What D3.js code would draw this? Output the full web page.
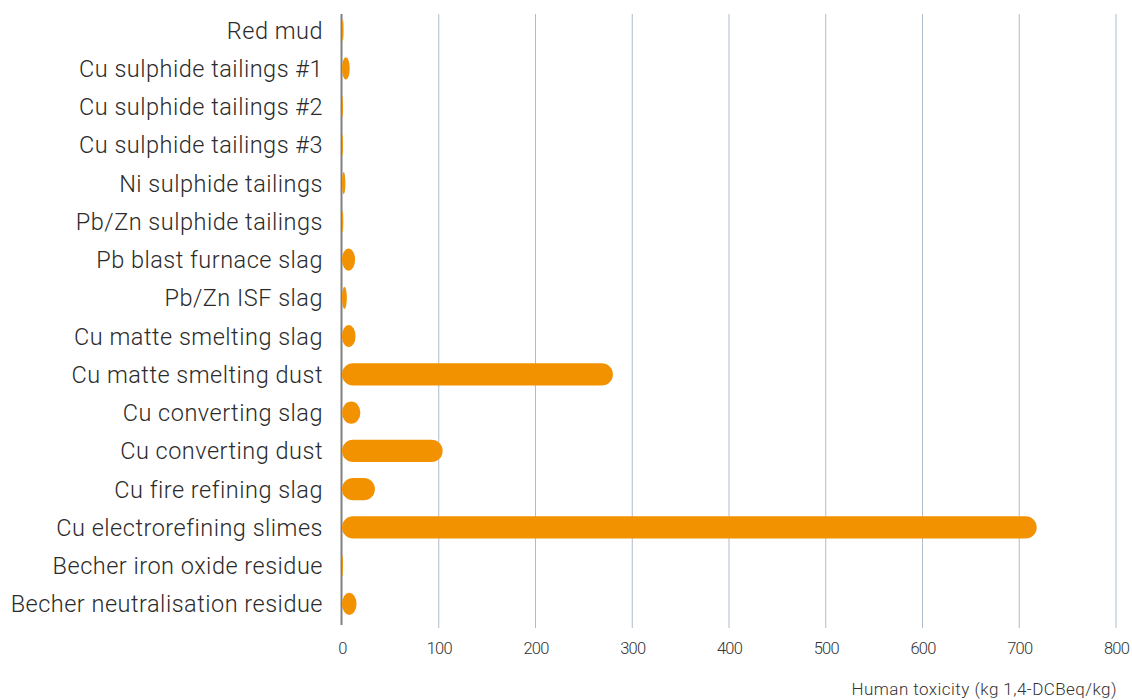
<!DOCTYPE html>
<html><head><meta charset="utf-8">
<script src="https://cdn.jsdelivr.net/npm/d3@7"></script>
<style>body{margin:0;background:#fff;}svg{display:block;}</style>
</head><body>
<svg id="chart" width="1132" height="700"></svg>
<script>
const categories = ["Red mud","Cu sulphide tailings #1","Cu sulphide tailings #2","Cu sulphide tailings #3","Ni sulphide tailings","Pb/Zn sulphide tailings","Pb blast furnace slag","Pb/Zn ISF slag","Cu matte smelting slag","Cu matte smelting dust","Cu converting slag","Cu converting dust","Cu fire refining slag","Cu electrorefining slimes","Becher iron oxide residue","Becher neutralisation residue"];
const values = [1.6, 8, 1.0, 1.0, 3.5, 1.3, 13.5, 5, 14, 280, 19, 104, 34, 718, 1.0, 15];
const tickValues = [0,100,200,300,400,500,600,700,800];
const axisTitle = "Human toxicity (kg 1,4-DCBeq/kg)";

(function(){
const svg = d3.select("#chart");
const mLeft = 342, mRight = 1116, mTop = 11, mBottom = 623;
const x = d3.scaleLinear().domain([0,800]).range([mLeft,mRight]);
const y = d3.scaleBand().domain(categories).range([mTop,mBottom]).paddingInner(0.42).paddingOuter(0.21);

// gridlines
svg.append("g").selectAll("line").data(tickValues.slice(1)).join("line")
  .attr("x1",d=>x(d)).attr("x2",d=>x(d)).attr("y1",14).attr("y2",628)
  .attr("stroke","#aebccb").attr("stroke-width",1);

// axis line (under bars)
svg.append("line").attr("x1",mLeft-0.5).attr("x2",mLeft-0.5).attr("y1",14).attr("y2",625)
  .attr("stroke","#808080").attr("stroke-width",2);

// bars
const bh = y.bandwidth();
svg.append("g").selectAll("rect").data(values).join("rect")
  .attr("x",x(0)).attr("y",(d,i)=>y(categories[i]))
  .attr("width",d=>x(d)-x(0)).attr("height",bh)
  .attr("rx",bh/2).attr("ry",bh/2)
  .attr("fill","#f39200");

// category labels
svg.append("g").selectAll("text").data(categories).join("text")
  .attr("x",323).attr("y",d=>y(d)+bh/2).attr("dy","0.36em")
  .attr("text-anchor","end").attr("font-family","Roboto").attr("font-weight",300)
  .attr("font-size",23.5).attr("letter-spacing",0.5).attr("fill","#2b2b2b").text(d=>d);

// x tick labels
const xAxis = d3.axisBottom(x).tickValues(tickValues).tickSize(0).tickPadding(0);
const gx = svg.append("g").attr("transform","translate(0,648)").call(xAxis);
gx.select(".domain").remove();
gx.selectAll("text").attr("font-family","Roboto").attr("font-weight",300)
  .attr("font-size",16.5).attr("letter-spacing",-0.8).attr("fill","#333").attr("dy","0.36em");

// axis title
svg.append("text").attr("x",1117).attr("y",695).attr("text-anchor","end")
  .attr("font-family","Roboto").attr("font-weight",300).attr("font-size",17)
  .attr("letter-spacing",0.45)
  .attr("fill","#333").text(axisTitle);
})();
</script>
</body></html>
